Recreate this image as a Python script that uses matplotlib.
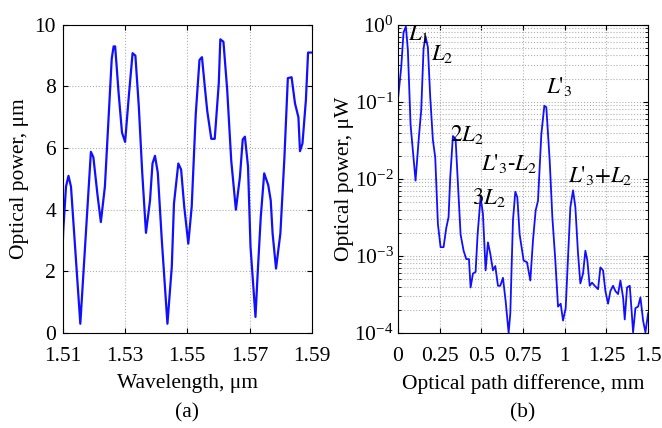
import matplotlib
matplotlib.use("Agg")
import matplotlib.pyplot as plt
from matplotlib.ticker import LogLocator, NullFormatter

plt.rcParams['font.family'] = ['Liberation Serif', 'DejaVu Serif']
plt.rcParams['mathtext.fontset'] = 'stix'

## (a) spectrum
wl = [1.5100, 1.5101, 1.5110, 1.5118, 1.5126, 1.5156, 1.5190, 1.5198, 1.5211, 1.5222,
      1.5235, 1.5257, 1.5263, 1.5268, 1.5279, 1.5290, 1.5300, 1.5312, 1.5324, 1.5333,
      1.5344, 1.5355, 1.5367, 1.5380, 1.5388, 1.5396, 1.5405, 1.5418, 1.5436, 1.5450,
      1.5457, 1.5471, 1.5480, 1.5490, 1.5503, 1.5514, 1.5527, 1.5539, 1.5547, 1.5557,
      1.5564, 1.5577, 1.5588, 1.5601, 1.5606, 1.5616, 1.5628, 1.5641, 1.5656, 1.5669,
      1.5678, 1.5685, 1.5695, 1.5703, 1.5719, 1.5726, 1.5736, 1.5747, 1.5760, 1.5768,
      1.5774, 1.5785, 1.5799, 1.5812, 1.5823, 1.5835, 1.5846, 1.5857, 1.5862, 1.5870,
      1.5881, 1.5888, 1.5900]
power = [3.0, 3.3, 4.75, 5.1, 4.75, 0.3, 5.88, 5.7, 4.5, 3.6,
         4.75, 8.9, 9.3, 9.3, 7.8, 6.5, 6.2, 7.7, 9.08, 9.0,
         7.35, 5.2, 3.25, 4.3, 5.5, 5.75, 5.2, 3.0, 0.3, 2.15,
         4.2, 5.5, 5.3, 4.1, 2.9, 4.1, 7.1, 8.86, 8.95, 7.9,
         7.2, 6.3, 6.3, 8.1, 9.53, 9.45, 7.9, 5.6, 4.0, 5.07,
         6.28, 6.37, 5.4, 2.8, 0.52, 1.93, 3.77, 5.18, 4.8, 4.3,
         3.23, 2.09, 3.23, 5.7, 8.27, 8.3, 7.45, 7.0, 5.9, 6.15,
         7.56, 9.1, 9.1]
wl_ticks = [1.51, 1.53, 1.55, 1.57, 1.59]

## (b) Fourier spectrum
opd = [0.0, 0.02, 0.034, 0.048, 0.06, 0.076, 0.106, 0.126, 0.14, 0.154,
       0.166, 0.18, 0.194, 0.21, 0.224, 0.24, 0.256, 0.274, 0.29, 0.304,
       0.314, 0.33, 0.346, 0.36, 0.376, 0.394, 0.41, 0.426, 0.436, 0.45,
       0.466, 0.478, 0.496, 0.51, 0.526, 0.54, 0.554, 0.57, 0.584, 0.6,
       0.614, 0.63, 0.646, 0.664, 0.674, 0.69, 0.704, 0.716, 0.73, 0.754,
       0.774, 0.794, 0.81, 0.826, 0.84, 0.86, 0.878, 0.89, 0.91, 0.926,
       0.944, 0.96, 0.976, 0.99, 1.006, 1.02, 1.034, 1.05, 1.064, 1.08,
       1.094, 1.11, 1.124, 1.136, 1.15, 1.164, 1.18, 1.2, 1.214, 1.23,
       1.244, 1.26, 1.274, 1.29, 1.304, 1.32, 1.334, 1.35, 1.36, 1.374,
       1.39, 1.4, 1.41, 1.424, 1.44, 1.454, 1.47, 1.484, 1.5]
amp = [0.105, 0.28, 0.80, 0.95, 0.47, 0.051, 0.0095, 0.035, 0.078, 0.49,
       0.71, 0.51, 0.115, 0.032, 0.019, 0.0026, 0.0013, 0.0013, 0.0023, 0.0032,
       0.0105, 0.036, 0.033, 0.0087, 0.0019, 0.00117, 0.00091, 0.00091, 0.00039, 0.00059,
       0.00062, 0.0019, 0.0058, 0.0035, 0.00065, 0.0015, 0.00107, 0.00065, 0.00074, 0.00041,
       0.00041, 0.00052, 0.00026, 0.0001, 0.00018, 0.0029, 0.0068, 0.0058, 0.0019, 0.00087,
       0.00083, 0.00048, 0.0016, 0.0039, 0.0052, 0.038, 0.089, 0.085, 0.0174, 0.0032,
       0.00087, 0.00022, 0.00024, 0.000145, 0.00021, 0.00095, 0.0043, 0.0071, 0.0043, 0.00107,
       0.00044, 0.00059, 0.00117, 0.00087, 0.00041, 0.00045, 0.00041, 0.00037, 0.00071, 0.00065,
       0.00035, 0.00024, 0.00035, 0.00041, 0.00035, 0.00032, 0.00048, 0.00029, 0.00015, 0.00039,
       0.00041, 0.00021, 0.000102, 0.00021, 0.00022, 0.00029, 0.000145, 0.000102, 0.00018]
opd_ticks = [0, 0.25, 0.5, 0.75, 1, 1.25, 1.5]
opd_labels = ['0', '0.25', '0.5', '0.75', '1', '1.25', '1.5']

peak_labels = [r"$L_1$", r"$L_2$", r"$2L_2$", r"$L\text{'}_3\text{-}L_2$", r"$3L_2$",
               r"$L\text{'}_3$", r"$L\text{'}_3\text{+}L_2$"]
peak_x = [0.06, 0.2, 0.31, 0.5, 0.446, 0.89, 1.02]
peak_y = [0.75, 0.42, 0.038, 0.016, 0.0058, 0.16, 0.011]

fs = 15.5
fig = plt.figure(figsize=(6.62, 4.28), dpi=100)

ax1 = fig.add_axes([0.095, 0.222, 0.376, 0.72])
ax1.plot(wl, power, color='#1010ff', lw=1.6)
ax1.set_xlim(1.51, 1.59)
ax1.set_ylim(0, 10)
ax1.set_xticks(wl_ticks)
ax1.set_xticklabels([str(t) for t in wl_ticks])
ax1.set_yticks([0, 2, 4, 6, 8, 10])
ax1.grid(True, ls=':', color='#b0b0b0', lw=0.8)
ax1.tick_params(direction='in', right=True, top=True, labelsize=fs)
ax1.tick_params(axis='x', pad=10)
ax1.tick_params(axis='y', pad=5)
ax1.set_xlabel("Wavelength, μm", fontsize=fs, labelpad=6)
ax1.set_ylabel("Optical power, μm", fontsize=fs, labelpad=4)

ax2 = fig.add_axes([0.601, 0.222, 0.378, 0.72])
ax2.plot(opd, amp, color='#1010ff', lw=1.3)
ax2.set_yscale('log')
ax2.set_xlim(0, 1.5)
ax2.set_ylim(1e-4, 1)
ax2.set_xticks(opd_ticks)
ax2.set_xticklabels(opd_labels)
ax2.yaxis.set_major_locator(LogLocator(base=10, numticks=10))
ax2.yaxis.set_minor_locator(LogLocator(base=10, subs=range(2, 10), numticks=50))
ax2.yaxis.set_minor_formatter(NullFormatter())
ax2.grid(True, which='both', ls=':', color='#b0b0b0', lw=0.8)
ax2.tick_params(which='both', direction='in', right=True, top=True, labelsize=fs)
ax2.tick_params(axis='x', pad=10)
ax2.tick_params(axis='y', pad=3)
ax2.set_xlabel("Optical path difference, mm", fontsize=fs, labelpad=6)
ax2.set_ylabel("Optical power, μW", fontsize=fs, labelpad=0)
for lbl, px, py in zip(peak_labels, peak_x, peak_y):
    ax2.text(px, py, lbl, fontsize=16.5, va='center', ha='left')

fig.text(0.283, 0.025, "(a)", fontsize=fs, ha='center')
fig.text(0.79, 0.025, "(b)", fontsize=fs, ha='center')

fig.savefig("out.png", dpi=100)
